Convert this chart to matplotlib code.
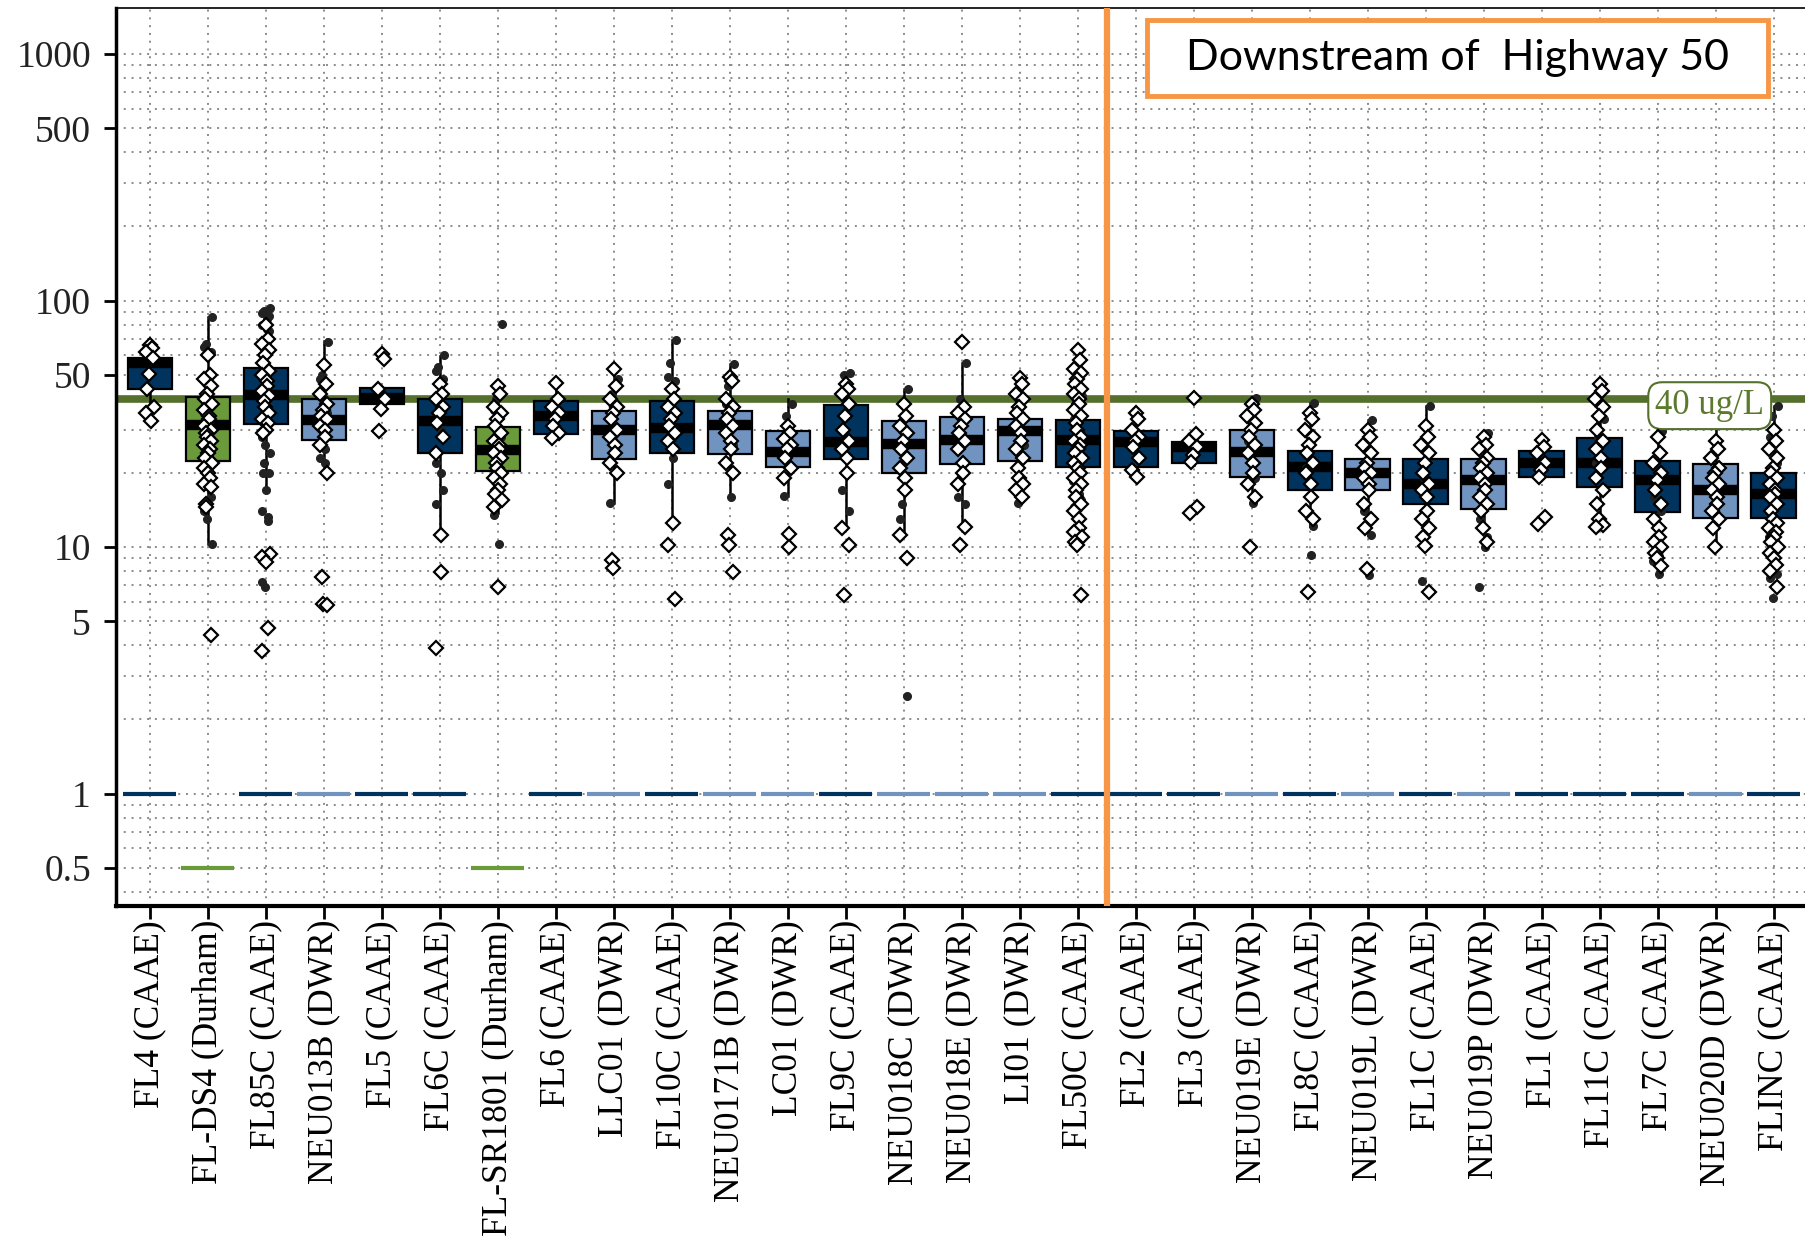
import matplotlib
matplotlib.use("Agg")
import matplotlib.pyplot as plt
import numpy as np
from matplotlib.ticker import FixedLocator, FixedFormatter, LogLocator, NullFormatter
from matplotlib.patches import Rectangle

plt.rcParams["font.family"] = ["Liberation Serif", "DejaVu Serif"]

NAVY = "#00335e"
LIGHT = "#7094bf"
GREEN = "#6b9a3a"
LINE_GREEN = "#556f2c"
ORANGE = "#f79646"

stations = ["FL4 (CAAE)", "FL-DS4 (Durham)", "FL85C (CAAE)", "NEU013B (DWR)", "FL5 (CAAE)",
            "FL6C (CAAE)", "FL-SR1801 (Durham)", "FL6 (CAAE)", "LLC01 (DWR)", "FL10C (CAAE)",
            "NEU0171B (DWR)", "LC01 (DWR)", "FL9C (CAAE)", "NEU018C (DWR)", "NEU018E (DWR)",
            "LI01 (DWR)", "FL50C (CAAE)", "FL2 (CAAE)", "FL3 (CAAE)", "NEU019E (DWR)",
            "FL8C (CAAE)", "NEU019L (DWR)", "FL1C (CAAE)", "NEU019P (DWR)", "FL1 (CAAE)",
            "FL11C (CAAE)", "FL7C (CAAE)", "NEU020D (DWR)", "FLINC (CAAE)"]
source = ["CAAE", "Durham", "CAAE", "DWR", "CAAE", "CAAE", "Durham", "CAAE", "DWR", "CAAE",
          "DWR", "DWR", "CAAE", "DWR", "DWR", "DWR", "CAAE", "CAAE", "CAAE", "DWR",
          "CAAE", "DWR", "CAAE", "DWR", "CAAE", "CAAE", "CAAE", "DWR", "CAAE"]

# box statistics (ug/L)
q1 = [43.9, 22.4, 31.7, 27.1, 38.2, 24.2, 20.4, 28.7, 22.8, 24.2, 23.8, 21.1, 22.8, 19.9, 21.7,
      22.4, 21.1, 21.1, 21.9, 19.2, 17.1, 17.1, 15.0, 14.3, 19.2, 17.5, 13.9, 13.1, 13.1]
med = [56.0, 31.2, 41.6, 32.9, 40.3, 32.4, 24.8, 34.1, 29.9, 30.4, 31.2, 24.3, 26.7, 26.2, 27.2,
       29.5, 27.2, 26.6, 25.6, 24.3, 21.2, 20.0, 18.0, 18.8, 22.0, 22.0, 18.8, 17.1, 16.5]
q3 = [58.7, 40.7, 53.4, 39.9, 44.2, 40.0, 30.6, 39.3, 35.8, 39.3, 35.8, 29.5, 37.8, 32.4, 33.7,
      33.1, 32.9, 29.5, 26.8, 29.9, 24.6, 22.8, 22.8, 22.8, 24.6, 27.7, 22.4, 21.7, 20.0]
whislo = [32.4, 10.3, 17.0, 20.2, 36.5, 11.3, 13.7, 27.7, 15.1, 13.6, 16.0, 16.1, 11.9, 11.2, 12.1,
          15.1, 13.7, 19.3, 21.5, 15.1, 12.2, 11.2, 10.1, 10.0, 19.0, 12.1, 7.8, 10.0, 7.8]
whishi = [66.0, 86.0, 91.0, 68.7, 44.5, 59.7, 45.0, 46.5, 52.0, 69.3, 55.1, 39.9, 51.0, 43.9, 56.0,
          48.6, 45.0, 35.0, 28.7, 40.3, 38.5, 32.9, 37.5, 29.0, 27.2, 46.1, 29.7, 31.9, 37.3]

# individual samples: open diamonds and solid dots
open_pts = [
    [66, 64, 62, 58.5, 50.5, 44, 37, 35, 32.5],
    [60, 50, 48, 45, 42, 40, 38, 36, 34, 33, 31, 30, 29, 28, 27, 26, 25, 24, 23, 22, 21, 20, 19, 18,
     17.5, 15, 14.5, 4.4],
    [80, 70, 67, 63, 60, 56, 52, 50, 47, 45, 43, 41, 39, 37, 35, 33, 32, 30, 29, 9.4, 9.1, 8.7, 4.7, 3.8],
    [55, 46, 42, 38, 36, 34, 33, 31, 30, 28, 26, 20, 7.6, 5.9, 5.8],
    [61, 58, 44, 40, 36.5, 29.7],
    [46, 42, 40, 37, 35, 32, 28, 24, 11.2, 7.9, 3.9],
    [45, 42, 37, 35, 33, 31, 29, 27, 26, 25, 24, 23, 22, 21, 20, 19, 18, 17, 16.5, 15.5, 14.5, 6.9],
    [46.5, 40, 37, 35, 33, 31, 29, 27.7],
    [52.6, 45, 40, 37, 35, 33, 30, 28, 26, 24, 22, 20, 8.9, 8.2],
    [44, 40, 37, 35, 33, 31, 29, 27, 25, 12.5, 10.2, 6.15],
    [49, 47, 40, 37, 35, 33, 31, 29, 27, 25, 22, 20, 11.2, 10.2, 7.9],
    [31, 29, 27.5, 26, 25, 23, 21, 19, 11.3, 10],
    [46, 44, 42, 38, 34, 30, 27, 25, 23, 20, 12, 10.2, 6.4],
    [38, 34, 31, 29, 27, 25, 23, 21, 19, 17, 11.2, 9.0],
    [68, 37, 35, 33, 31, 29, 27, 25, 22, 20, 18, 12.1, 10.2],
    [48.6, 46, 42, 40, 37, 35, 33, 31, 29, 27, 25, 23, 21, 19, 18, 17, 16],
    [63, 57.7, 53, 51, 48, 46, 44, 42, 40, 38, 36, 34, 32, 30, 28, 27, 26, 25, 24, 23, 22, 21, 20, 19,
     18, 17, 16, 15, 14, 13, 12, 11.5, 11, 10.5, 10.2, 6.4],
    [35, 33, 30, 28, 27, 25.5, 23, 20.5, 19.3],
    [40.3, 28.7, 27, 25.6, 23.7, 22.2, 14.6, 13.8],
    [38, 36, 34, 32, 30, 28, 26, 24, 22, 20, 18, 16, 10],
    [35, 33, 30, 28, 26, 24, 22, 20, 18, 16, 14, 13, 6.6],
    [30, 28, 26, 24, 22, 21, 20, 19, 18, 17, 15, 13, 12, 8.16],
    [31, 28, 26, 24, 22, 20, 18, 17, 16, 14, 13, 12, 11, 10.1, 6.55],
    [28, 26, 25, 23, 22, 21, 20, 19, 18, 17, 16, 15, 14, 12, 10.5],
    [27.2, 25.5, 24, 22, 20.5, 19.2, 13.2, 12.4],
    [46, 43, 40, 37, 34, 30, 27, 25, 23, 21, 19, 17, 15, 13, 12.3, 12.1],
    [28, 24, 22, 20, 18.8, 17, 15, 13, 12, 11, 10.5, 10, 9.5, 9, 8.4],
    [27, 25, 23, 21, 20, 19, 18, 17, 16, 15, 14, 13, 12, 10],
    [30, 27, 25, 23, 21, 20, 19, 18, 17, 16.5, 16, 15, 14, 13, 12.5, 12, 11.5, 11, 10.5, 10, 9.5, 9,
     8.5, 8, 6.9],
]
solid_pts = [
    [],
    [86, 67, 65, 62, 44, 35, 32, 16, 14, 13, 10.3],
    [93, 91, 89, 87, 84, 80, 77, 75, 28, 26, 24, 22, 20, 20, 17, 14, 13.2, 12.8, 7.2, 6.9],
    [68, 50, 48, 35, 25, 23, 22],
    [],
    [60, 54, 52, 48, 30, 22, 20, 17, 15],
    [80.5, 40, 36, 28, 24, 13.5, 10.3],
    [],
    [48, 42, 15.1],
    [69.3, 56, 49, 47, 23, 18],
    [55.1, 45, 38, 26, 16],
    [38, 34, 16.1],
    [51, 50, 17, 14],
    [43.9, 15, 13, 2.5],
    [56, 40, 16, 15],
    [26, 15.1],
    [41, 39, 33, 29, 22, 18.5, 16.5, 15.5, 14.5, 13],
    [],
    [],
    [40.3, 35, 27, 19, 15.1],
    [38.5, 25, 21, 12.2, 9.3],
    [32.9, 25, 14, 11.2, 7.7],
    [37.5, 19, 7.3],
    [29, 16.5, 13, 11, 10, 6.9],
    [],
    [33, 28, 22, 17.5],
    [29.7, 21, 16, 14, 9.2, 8.8, 7.8],
    [31.9, 14.5],
    [37.3, 34, 28, 22, 15, 11, 9.8, 7.8, 7.5, 6.2],
]

# reporting limits
report_limit = [1, 0.5, 1, 1, 1, 1, 0.5, 1, 1, 1, 1, 1, 1, 1, 1, 1, 1, 1, 1, 1, 1, 1, 1, 1, 1, 1, 1, 1, 1]

threshold = 40
split_after = "FL50C (CAAE)"

colors = {"CAAE": NAVY, "DWR": LIGHT, "Durham": GREEN}

fig = plt.figure(figsize=(18.06, 12.42), dpi=100)
ax = fig.add_axes([0.0642, 0.2705, 0.9358, 0.7231])

n = len(stations)
pos = np.arange(n)

stats = []
for i in range(n):
    stats.append(dict(q1=q1[i], med=med[i], q3=q3[i], whislo=whislo[i], whishi=whishi[i], fliers=[]))

# threshold line behind boxes
ax.axhline(threshold, color=LINE_GREEN, linewidth=5.5, zorder=2)

bp = ax.bxp(stats, positions=pos, widths=0.76, patch_artist=True, showfliers=False, showcaps=False,
            boxprops=dict(edgecolor="black", linewidth=1.6),
            medianprops=dict(color="black", linewidth=7.5, solid_capstyle="butt"),
            whiskerprops=dict(color="black", linewidth=1.8),
            zorder=3)
for patch, src in zip(bp["boxes"], source):
    patch.set_facecolor(colors[src])

# samples
for i in range(n):
    vals = np.array(open_pts[i], dtype=float)
    jit = 0.07 * np.sin(np.arange(len(vals)) * 2.4)
    ax.plot(pos[i] + jit, vals, linestyle="none", marker="D", markersize=7.5,
            markerfacecolor="white", markeredgecolor="black", markeredgewidth=1.6, zorder=5)
    vals = np.array(solid_pts[i], dtype=float)
    if len(vals):
        jit = 0.07 * np.cos(np.arange(len(vals)) * 1.9)
        ax.plot(pos[i] + jit, vals, linestyle="none", marker="o", markersize=5.5,
                color="#222222", zorder=4)

# reporting limit dashes
for i in range(n):
    ax.hlines(report_limit[i], pos[i] - 0.46, pos[i] + 0.46, color=colors[source[i]],
              linewidth=3, zorder=3)

# split line
xs = stations.index(split_after) + 0.5
ax.axvline(xs, color=ORANGE, linewidth=4.5, zorder=6)

ax.set_yscale("log")
ax.set_ylim(0.35, 1540)
ax.set_xlim(-0.58, n - 0.44)

yt = [0.5, 1, 5, 10, 50, 100, 500, 1000]
ax.yaxis.set_major_locator(FixedLocator(yt))
ax.yaxis.set_major_formatter(FixedFormatter([f"{v:g}" for v in yt]))
ax.yaxis.set_minor_locator(LogLocator(base=10, subs=np.arange(1, 10), numticks=50))
ax.yaxis.set_minor_formatter(NullFormatter())
ax.tick_params(axis="y", which="minor", length=0)
ax.tick_params(axis="y", which="major", length=9, width=2, pad=9, labelsize=27, labelcolor="#222222")

ax.set_xticks(pos)
ax.set_xticklabels(stations, rotation=90)
ax.tick_params(axis="x", length=9, width=2, pad=1, labelsize=25.5)

grid_kw = dict(color="#8a8a8a", linestyle=(0, (1, 3)), linewidth=1.4)
ax.yaxis.grid(True, which="both", **grid_kw)
ax.xaxis.grid(True, which="major", **grid_kw)
ax.set_axisbelow(True)

ax.spines["left"].set_linewidth(2.5)
ax.spines["bottom"].set_linewidth(3)
ax.spines["top"].set_linewidth(1.2)
ax.spines["right"].set_visible(False)

ax.text(26.9, 37.5, f"{threshold} ug/L", fontsize=25, color="#5b7a2c", ha="center", va="center",
        zorder=4, bbox=dict(boxstyle="round,pad=0.2,rounding_size=0.4", facecolor="white",
                            edgecolor=LINE_GREEN, linewidth=1.5))

ax.add_patch(Rectangle((0.610, 0.902), 0.3675, 0.0846, transform=ax.transAxes, facecolor="white",
                       edgecolor=ORANGE, linewidth=3.5, zorder=7))
ax.text(0.7938, 0.944, "Downstream of  Highway 50", transform=ax.transAxes, fontsize=31,
        family=["Lato", "DejaVu Sans"], ha="center", va="center", zorder=8)

fig.savefig("out.png", dpi=100)
